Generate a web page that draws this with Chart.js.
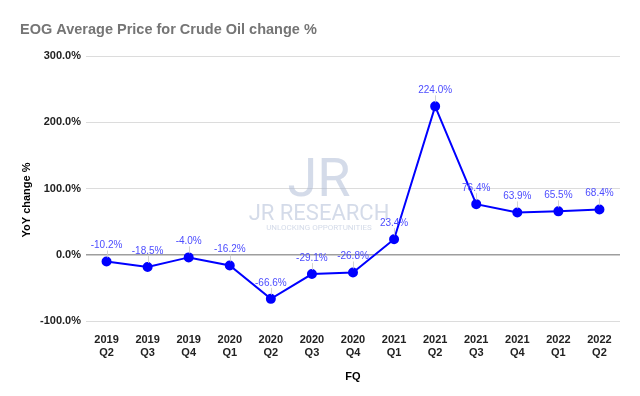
<!DOCTYPE html>
<html>
<head>
<meta charset="utf-8">
<script src="https://cdn.jsdelivr.net/npm/chart.js@4"></script>
<style>
  html, body { margin: 0; padding: 0; background: #fff; }
  #wrap { width: 640px; height: 396px; position: relative; }
</style>
</head>
<body>
<div id="wrap"><canvas id="grafico"></canvas></div>
<script>
const years = ["2019", "2019", "2019", "2020", "2020", "2020", "2020", "2021", "2021", "2021", "2021", "2022", "2022"];
const quarters = ["Q2", "Q3", "Q4", "Q1", "Q2", "Q3", "Q4", "Q1", "Q2", "Q3", "Q4", "Q1", "Q2"];
const yoyChange = [-10.2, -18.5, -4.0, -16.2, -66.6, -29.1, -26.8, 23.4, 224.0, 76.4, 63.9, 65.5, 68.4];
const yTicks = [-100, 0, 100, 200, 300];

const labels = years.map((y, i) => [y, quarters[i]]);
const FONT = "'Liberation Sans', Arial, sans-serif";

// titulo, titulos dos eixos e marca d'agua
const decor = {
  id: "decor",
  beforeDatasetsDraw(chart) {
    const ctx = chart.ctx;
    const cx = 319;
    ctx.save();
    ctx.fillStyle = "rgba(170,184,212,0.5)";
    ctx.textAlign = "center";
    ctx.textBaseline = "alphabetic";
    ctx.font = "400 54px Roboto, sans-serif";
    ctx.fillText("JR", cx, 196);
    ctx.font = "400 22px Roboto, sans-serif";
    ctx.fillText("JR RESEARCH", cx, 220);
    ctx.font = "400 8px Roboto, sans-serif";
    ctx.fillText("UNLOCKING OPPORTUNITIES", cx, 230);
    ctx.restore();
  },
  afterDraw(chart) {
    const ctx = chart.ctx;
    ctx.save();
    ctx.fillStyle = "#757575";
    ctx.font = "bold 14.5px " + FONT;
    ctx.textAlign = "left";
    ctx.textBaseline = "middle";
    ctx.fillText("EOG Average Price for Crude Oil change %", 20, 30);

    ctx.fillStyle = "#000";
    ctx.font = "bold 11px " + FONT;
    ctx.textAlign = "center";
    ctx.fillText("FQ", (chart.chartArea.left + chart.chartArea.right) / 2, 377);

    ctx.translate(27, 200);
    ctx.rotate(-Math.PI / 2);
    ctx.fillText("YoY change %", 0, 0);
    ctx.restore();
  }
};

// rotulos dos pontos com linha guia
const pointLabels = {
  id: "pointLabels",
  afterDatasetsDraw(chart) {
    const ctx = chart.ctx;
    const meta = chart.getDatasetMeta(0);
    ctx.save();
    ctx.font = "10px " + FONT;
    ctx.textAlign = "center";
    ctx.textBaseline = "middle";
    meta.data.forEach((pt, i) => {
      const ly = pt.y - 16;
      ctx.strokeStyle = "rgba(200,200,200,0.8)";
      ctx.lineWidth = 1;
      ctx.beginPath();
      ctx.moveTo(Math.round(pt.x) + 0.5, ly + 5);
      ctx.lineTo(Math.round(pt.x) + 0.5, pt.y - 4);
      ctx.stroke();
      ctx.fillStyle = "#4d4dff";
      ctx.fillText(yoyChange[i].toFixed(1) + "%", pt.x, ly);
    });
    ctx.restore();
  }
};

new Chart(document.getElementById("grafico"), {
  type: "line",
  data: {
    labels: labels,
    datasets: [{
      data: yoyChange,
      borderColor: "#0000ff",
      backgroundColor: "#0000ff",
      borderWidth: 2,
      pointRadius: 4,
      pointHoverRadius: 4,
      tension: 0
    }]
  },
  options: {
    responsive: true,
    maintainAspectRatio: false,
    animation: false,
    layout: { padding: { top: 56, right: 20, left: 0, bottom: 0 } },
    plugins: {
      legend: { display: false },
      tooltip: { enabled: false },
      title: { display: false }
    },
    scales: {
      x: {
        offset: true,
        grid: { display: false },
        border: { display: false },
        ticks: {
          color: "#222",
          font: { family: FONT, size: 11, weight: "bold" },
          padding: 4,
          maxRotation: 0,
          autoSkip: false
        },
        afterFit(scale) { scale.height = 75; }
      },
      y: {
        min: -100,
        max: 300,
        afterBuildTicks(scale) { scale.ticks = yTicks.map(v => ({ value: v })); },
        grid: {
          color: ctx => ctx.tick && ctx.tick.value === 0 ? "#9e9e9e" : "#dcdcdc",
          lineWidth: ctx => ctx.tick && ctx.tick.value === 0 ? 1.5 : 1,
          drawTicks: false
        },
        border: { display: false },
        ticks: {
          color: "#222",
          font: { family: FONT, size: 11, weight: "bold" },
          padding: 5,
          callback: v => v.toFixed(1) + "%"
        },
        afterFit(scale) { scale.width = 86; }
      }
    }
  },
  plugins: [decor, pointLabels]
});
</script>
</body>
</html>
